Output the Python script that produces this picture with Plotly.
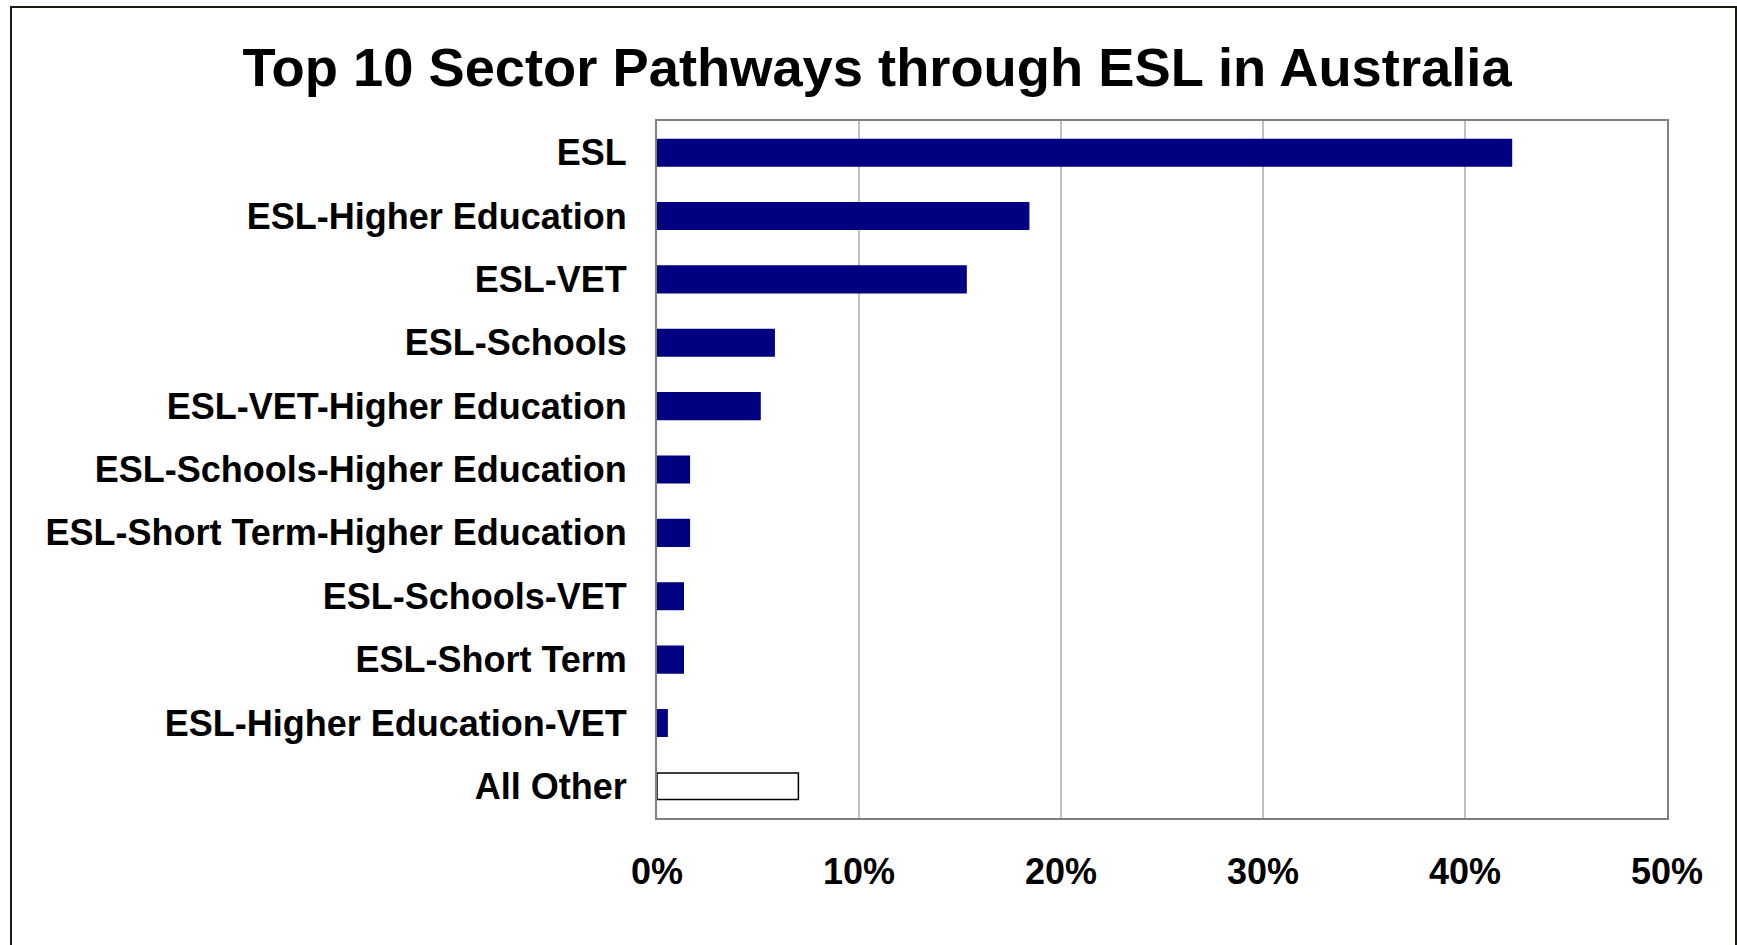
import plotly.graph_objects as go

# Share of students by sector pathway (percent)
pathways = [
    "ESL",
    "ESL-Higher Education",
    "ESL-VET",
    "ESL-Schools",
    "ESL-VET-Higher Education",
    "ESL-Schools-Higher Education",
    "ESL-Short Term-Higher Education",
    "ESL-Schools-VET",
    "ESL-Short Term",
    "ESL-Higher Education-VET",
    "All Other",
]
shares = [42.3, 18.4, 15.3, 5.8, 5.1, 1.6, 1.6, 1.3, 1.3, 0.5, 7.0]
x_ticks = [0, 10, 20, 30, 40, 50]
x_tick_labels = ["0%", "10%", "20%", "30%", "40%", "50%"]

NAVY = "#000080"
fill_colors = ["#ffffff" if p == "All Other" else NAVY for p in pathways]
edge_colors = ["#000000" if p == "All Other" else NAVY for p in pathways]

FONT = "Liberation Sans, Arial, sans-serif"

fig = go.Figure(
    go.Bar(
        x=shares,
        y=pathways,
        orientation="h",
        width=0.42,
        marker=dict(color=fill_colors, line=dict(color=edge_colors, width=1.5)),
        hoverinfo="x+y",
    )
)

W, H = 1737, 945
L, R, T, B = 657, 70, 121, 127
pw, ph = W - L - R, H - T - B

def px_x(x):
    return (x - L) / pw

def px_y(y):
    return (H - B - y) / ph

fig.update_layout(
    width=W,
    height=H,
    margin=dict(l=L, r=R, t=T, b=B, pad=0),
    paper_bgcolor="#ffffff",
    plot_bgcolor="#ffffff",
    showlegend=False,
    title=dict(
        text="Top 10 Sector Pathways through ESL in Australia",
        font=dict(family=FONT, size=54.3, color="#000000", weight="bold"),
        x=877 / W,
        xanchor="center",
        y=1 - 67 / H,
        yanchor="middle",
    ),
    xaxis=dict(
        range=[0, 50],
        tickvals=x_ticks,
        ticktext=x_tick_labels,
        showgrid=True,
        gridcolor="#c0c0c0",
        gridwidth=1.5,
        zeroline=False,
        showline=True,
        linecolor="#808080",
        linewidth=2,
        mirror=True,
        ticks="",
        ticklabelstandoff=21,
        tickfont=dict(family=FONT, size=36, color="#000000", weight="bold"),
        fixedrange=True,
    ),
    yaxis=dict(
        autorange="reversed",
        showgrid=False,
        zeroline=False,
        showline=True,
        linecolor="#808080",
        linewidth=2,
        mirror=True,
        ticks="",
        ticklabelstandoff=21,
        tickfont=dict(family=FONT, size=36, color="#000000", weight="bold"),
        fixedrange=True,
    ),
    shapes=[
        dict(
            type="rect",
            xref="paper",
            yref="paper",
            x0=px_x(11),
            x1=px_x(1736),
            y0=px_y(960),
            y1=px_y(7),
            line=dict(color="#1a1a14", width=2),
            fillcolor="rgba(0,0,0,0)",
            layer="below",
        )
    ],
)

fig.write_html("out.html")
